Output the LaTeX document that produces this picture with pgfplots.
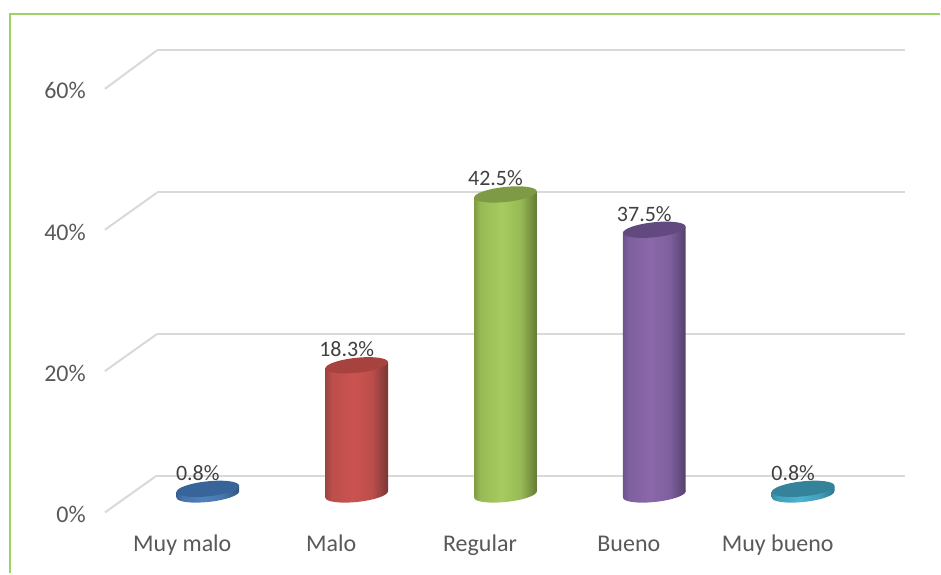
\documentclass[border=0pt]{standalone}
\usepackage{fontspec}
\setmainfont{Carlito}
\usepackage{pgfplots}
\pgfplotsset{compat=1.18}
\definecolor{txtgray}{HTML}{595959}
\definecolor{lblgray}{HTML}{404040}
\definecolor{gridc}{HTML}{D9D9D9}
\definecolor{framec}{HTML}{9BD465}
\newcommand\cyl[6]{%
  \definecolor{l#1}{HTML}{#2}\definecolor{m#1}{HTML}{#3}\definecolor{s#1}{HTML}{#4}\definecolor{r#1}{HTML}{#5}\definecolor{t#1}{HTML}{#6}%
  \pgfdeclarehorizontalshading{sh#1}{100bp}{color(0bp)=(l#1); color(25bp)=(l#1); color(30bp)=(s#1); color(47bp)=(m#1); color(62bp)=(s#1); color(75bp)=(r#1); color(100bp)=(r#1)}%
  \pgfdeclareplotmark{bot#1}{\pgftransformrotate{6}\pgfpathellipse{\pgfpointorigin}{\pgfqpoint{31.5pt}{0pt}}{\pgfqpoint{0pt}{7.5pt}}\pgfshadepath{sh#1}{0}\pgfusepath{discard}}%
  \pgfdeclareplotmark{top#1}{\pgftransformrotate{6}\pgfsetfillcolor{t#1}\pgfpathellipse{\pgfpointorigin}{\pgfqpoint{31.5pt}{0pt}}{\pgfqpoint{0pt}{7.5pt}}\pgfusepath{fill}}%
}
\cyl{A}{35608F}{4F81BD}{4675AB}{2F5580}{37659A}
\cyl{B}{984542}{CB5350}{BC4E4B}{7A3734}{A8423F}
\cyl{C}{7F9C42}{A6CB5E}{98BA56}{637A33}{7E9A45}
\cyl{D}{6E5390}{8A68AA}{7F609E}{54406D}{624A80}
\cyl{E}{358CA6}{4BB3D0}{43A0BA}{2D788F}{35839A}
\pgfplotsset{
  layer/.style={scale only axis, anchor=south west, clip=false,
    xmin=-0.5, xmax=4.5, ymin=0, ymax=60},
  dlabel/.style={only marks, point meta=y,
    nodes near coords={\pgfmathprintnumber[fixed,precision=1,fixed zerofill,assume math mode=true]{\pgfplotspointmeta}\%},
    nodes near coords style={anchor=center, inner sep=0pt, xshift=-10pt, yshift=16pt,
      text=lblgray, font=\fontsize{22}{24}\selectfont}},
  body/.style={draw=none, shade, shading=sh#1, forget plot},
}
\begin{document}
\begin{tikzpicture}[x=1pt,y=1pt]
\path (0,0) rectangle (941,574);
% outer frame
\draw[framec, line width=2pt] (10,0) -- (10,560) -- (941,560);
% side wall edges
\foreach \yf/\yb in {61/98, 202.5/239.5, 344/381, 485/523.5}
  \draw[gridc, line width=2pt] (105,\yf) -- (157,\yb);
% back wall
\begin{axis}[layer, hide axis, at={(157pt,97.5pt)}, width=749pt, height=426pt]
\addplot[gridc, line width=2pt] coordinates {(-0.5,0) (4.5,0)};
\addplot[gridc, line width=2pt] coordinates {(-0.5,20) (4.5,20)};
\addplot[gridc, line width=2pt] coordinates {(-0.5,40) (4.5,40)};
\addplot[gridc, line width=2pt] coordinates {(-0.5,60) (4.5,60)};
\end{axis}
% front plane: tick labels
\begin{axis}[layer, at={(108pt,61pt)}, width=745pt, height=424pt,
  axis lines=left, axis line style={draw=none}, tick style={draw=none},
  ytick={0,20,40,60}, yticklabels={0\%,20\%,40\%,60\%},
  xtick={0,1,2,3,4}, xticklabels={Muy malo,Malo,Regular,Bueno,Muy bueno},
  yticklabel style={anchor=east, inner sep=0pt, xshift=-22pt, yshift=-2pt, text=txtgray, font=\fontsize{24}{26}\selectfont},
  xticklabel style={anchor=base, inner sep=0pt, yshift=-39pt, text=txtgray, font=\fontsize{24}{26}\selectfont},
  major tick length=0pt]
\addplot[draw=none, forget plot] coordinates {(0,0) (4,60)};
\end{axis}
% cylinders
\begin{axis}[layer, hide axis, at={(133.5pt,79pt)}, width=745pt, height=424pt]
% Muy malo
\addplot[only marks, mark=botA, forget plot] coordinates {(0,0)};
\addplot[body=A] coordinates {(-0.211,0.38) (0.211,1.22) (0.211,0.42) (-0.211,-0.42)} -- cycle;
\addplot[dlabel, mark=topA] coordinates {(0,0.8)};
% Malo
\addplot[only marks, mark=botB, forget plot] coordinates {(1,0)};
\addplot[body=B] coordinates {(0.789,17.88) (1.211,18.72) (1.211,0.42) (0.789,-0.42)} -- cycle;
\addplot[dlabel, mark=topB] coordinates {(1,18.3)};
% Regular
\addplot[only marks, mark=botC, forget plot] coordinates {(2,0)};
\addplot[body=C] coordinates {(1.789,42.08) (2.211,42.92) (2.211,0.42) (1.789,-0.42)} -- cycle;
\addplot[dlabel, mark=topC] coordinates {(2,42.5)};
% Bueno
\addplot[only marks, mark=botD, forget plot] coordinates {(3,0)};
\addplot[body=D] coordinates {(2.789,37.08) (3.211,37.92) (3.211,0.42) (2.789,-0.42)} -- cycle;
\addplot[dlabel, mark=topD] coordinates {(3,37.5)};
% Muy bueno
\addplot[only marks, mark=botE, forget plot] coordinates {(4,0)};
\addplot[body=E] coordinates {(3.789,0.38) (4.211,1.22) (4.211,0.42) (3.789,-0.42)} -- cycle;
\addplot[dlabel, mark=topE] coordinates {(4,0.8)};
\end{axis}
\end{tikzpicture}
\end{document}
